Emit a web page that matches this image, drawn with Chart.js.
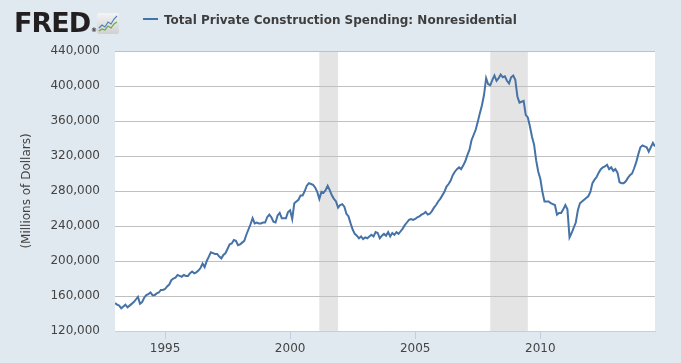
<!DOCTYPE html>
<html>
<head>
<meta charset="utf-8">
<script src="https://cdn.jsdelivr.net/npm/chart.js@4.4.1/dist/chart.umd.min.js"></script>
<style>
  html, body { margin: 0; padding: 0; background: #e1e9f0; }
  #wrap { position: relative; width: 681px; height: 363px; overflow: hidden; background: #e1e9f0; }
  #chart { position: absolute; left: 0; top: 0; }
  #logo { position: absolute; left: 14px; top: 7px; font: bold 27px "DejaVu Sans", sans-serif; color: #231f20; letter-spacing: -1px; }
  #logo .reg { font-size: 6px; letter-spacing: 0; vertical-align: baseline; margin-left: 1px; }
  #icon { position: absolute; left: 97px; top: 13px; }
  #legend { position: absolute; left: 143px; top: 13px; font: bold 12px "DejaVu Sans", sans-serif; color: #3e3e3e; white-space: nowrap; }
  #legend .swatch { display: inline-block; width: 15px; height: 2px; background: #4572a7; vertical-align: 4px; margin-right: 6px; }
</style>
</head>
<body>
<div id="wrap">
  <canvas id="chart" width="681" height="363"></canvas>
  <div id="logo">FRED<span class="reg">®</span></div>
  <svg id="icon" width="22" height="21" viewBox="0 0 22 21">
    <defs>
      <linearGradient id="g" x1="0" y1="0" x2="0" y2="1">
        <stop offset="0" stop-color="#f4f4f4"/>
        <stop offset="1" stop-color="#d0d0d0"/>
      </linearGradient>
    </defs>
    <rect x="0" y="0" width="22" height="21" rx="2" fill="url(#g)"/>
    <polyline points="2,15 5,12 8,14 11,9 14,11 17,6 20,3" fill="none" stroke="#4f7fb8" stroke-width="1.2"/>
    <polyline points="2,18 5,16 8,17 11,13 14,15 17,11 20,9" fill="none" stroke="#6aa84f" stroke-width="1.2"/>
  </svg>
  <div id="legend"><span class="swatch"></span>Total Private Construction Spending: Nonresidential</div>
</div>
<script>
"use strict";

const SERIES_LABEL = "Total Private Construction Spending: Nonresidential";
const FIRST_YEAR = 1993;

// monthly values, Millions of Dollars, one row per year (Jan..Dec)
const values1993 = [152000, 150000, 149000, 146000, 148000, 150000, 147000, 149000, 151000, 153000, 156000, 159000];
const values1994 = [151000, 153000, 158000, 161000, 162000, 164000, 161000, 161000, 163000, 164000, 167000, 167000];
const values1995 = [168000, 171000, 173000, 178000, 180000, 181000, 184000, 183000, 182000, 184000, 183000, 183000];
const values1996 = [186000, 188000, 186000, 187000, 189000, 192000, 197000, 193000, 200000, 205000, 210000, 209000];
const values1997 = [208000, 208000, 205000, 203000, 207000, 209000, 214000, 219000, 220000, 224000, 223000, 218000];
const values1998 = [219000, 221000, 223000, 230000, 236000, 242000, 249000, 243000, 244000, 243000, 243000, 244000];
const values1999 = [244000, 250000, 253000, 250000, 245000, 244000, 252000, 255000, 249000, 249000, 249000, 256000];
const values2000 = [258000, 248000, 266000, 268000, 270000, 275000, 275000, 280000, 286000, 289000, 288000, 287000];
const values2001 = [284000, 279000, 271000, 279000, 278000, 281000, 286000, 281000, 275000, 271000, 268000, 261000];
const values2002 = [264000, 265000, 262000, 254000, 251000, 243000, 236000, 231000, 229000, 226000, 228000, 225000];
const values2003 = [227000, 226000, 228000, 230000, 228000, 233000, 232000, 226000, 229000, 231000, 229000, 233000];
const values2004 = [228000, 232000, 230000, 233000, 231000, 234000, 237000, 241000, 244000, 247000, 248000, 247000];
const values2005 = [248000, 250000, 251000, 253000, 254000, 256000, 253000, 254000, 257000, 261000, 264000, 268000];
const values2006 = [271000, 275000, 279000, 285000, 288000, 292000, 298000, 302000, 305000, 307000, 305000, 309000];
const values2007 = [314000, 321000, 327000, 338000, 344000, 350000, 359000, 369000, 378000, 390000, 409000, 402000];
const values2008 = [401000, 407000, 412000, 406000, 409000, 413000, 410000, 411000, 406000, 403000, 410000, 412000];
const values2009 = [407000, 388000, 381000, 382000, 383000, 367000, 364000, 354000, 342000, 333000, 315000, 302000];
const values2010 = [294000, 279000, 268000, 268000, 268000, 266000, 265000, 264000, 253000, 255000, 255000, 259000];
const values2011 = [264000, 259000, 227000, 232000, 238000, 244000, 258000, 266000, 268000, 270000, 272000, 274000];
const values2012 = [279000, 289000, 293000, 296000, 301000, 305000, 307000, 308000, 310000, 305000, 307000, 303000];
const values2013 = [305000, 301000, 290000, 289000, 289000, 291000, 295000, 298000, 300000, 306000, 313000, 322000];
const values2014 = [330000, 332000, 331000, 330000, 325000, 330000, 335000, 331000];

const yearlyValues = [
  values1993, values1994, values1995, values1996, values1997, values1998, values1999,
  values2000, values2001, values2002, values2003, values2004, values2005, values2006,
  values2007, values2008, values2009, values2010, values2011, values2012, values2013, values2014
];

const yearTicks = [1995, 2000, 2005, 2010];
const yMin = 120000;
const yMax = 440000;
const yStep = 40000;

// recession shading, start and end month
const recessions = [["2001-03", "2001-12"], ["2008-01", "2009-07"]];

const monthToYear = (s) => {
  const [y, m] = s.split("-").map(Number);
  return y + (m - 1) / 12;
};

const points = [];
yearlyValues.forEach((row, i) => {
  row.forEach((v, m) => points.push({ x: FIRST_YEAR + i + m / 12, y: v }));
});
const lastX = points[points.length - 1].x;

const plotBackground = {
  id: "plotBackground",
  beforeDraw(chart) {
    const { ctx, chartArea: a, scales: { x } } = chart;
    ctx.save();
    ctx.fillStyle = "#ffffff";
    ctx.fillRect(a.left, a.top, a.right - a.left, a.bottom - a.top);
    ctx.fillStyle = "#e4e4e4";
    recessions.forEach(([s, e]) => {
      const x0 = x.getPixelForValue(monthToYear(s));
      const x1 = x.getPixelForValue(monthToYear(e));
      ctx.fillRect(x0, a.top, x1 - x0, a.bottom - a.top);
    });
    ctx.restore();
  }
};

const font = { family: "'DejaVu Sans', Verdana, sans-serif", size: 12 };

new Chart(document.getElementById("chart"), {
  type: "line",
  data: {
    datasets: [{
      label: SERIES_LABEL,
      data: points,
      borderColor: "#4572a7",
      borderWidth: 2,
      pointRadius: 0,
      fill: false,
      tension: 0
    }]
  },
  options: {
    responsive: false,
    animation: false,
    events: [],
    layout: { padding: { top: 51, right: 26, left: 0, bottom: 0 } },
    plugins: {
      legend: { display: false },
      tooltip: { enabled: false }
    },
    scales: {
      x: {
        type: "linear",
        min: FIRST_YEAR,
        max: lastX,
        afterFit(s) { s.height = 32; },
        afterBuildTicks(s) { s.ticks = yearTicks.map(v => ({ value: v })); },
        ticks: {
          color: "#444444",
          font: font,
          padding: 3,
          maxRotation: 0,
          autoSkip: false,
          callback: v => String(v)
        },
        grid: { drawOnChartArea: false, drawTicks: true, tickLength: 8, color: "#c0d0e0" },
        border: { display: true, color: "#c0d0e0", width: 1 }
      },
      y: {
        min: yMin,
        max: yMax,
        afterFit(s) { s.width = 115; },
        ticks: {
          stepSize: yStep,
          color: "#444444",
          font: font,
          padding: 15,
          callback: v => v.toLocaleString("en-US")
        },
        grid: { color: "#c0c0c0", drawTicks: false, lineWidth: 1 },
        border: { display: false },
        title: {
          display: true,
          text: "(Millions of Dollars)",
          color: "#444444",
          font: font,
          padding: { top: 20, bottom: 0 }
        }
      }
    }
  },
  plugins: [plotBackground]
});
</script>
</body>
</html>
